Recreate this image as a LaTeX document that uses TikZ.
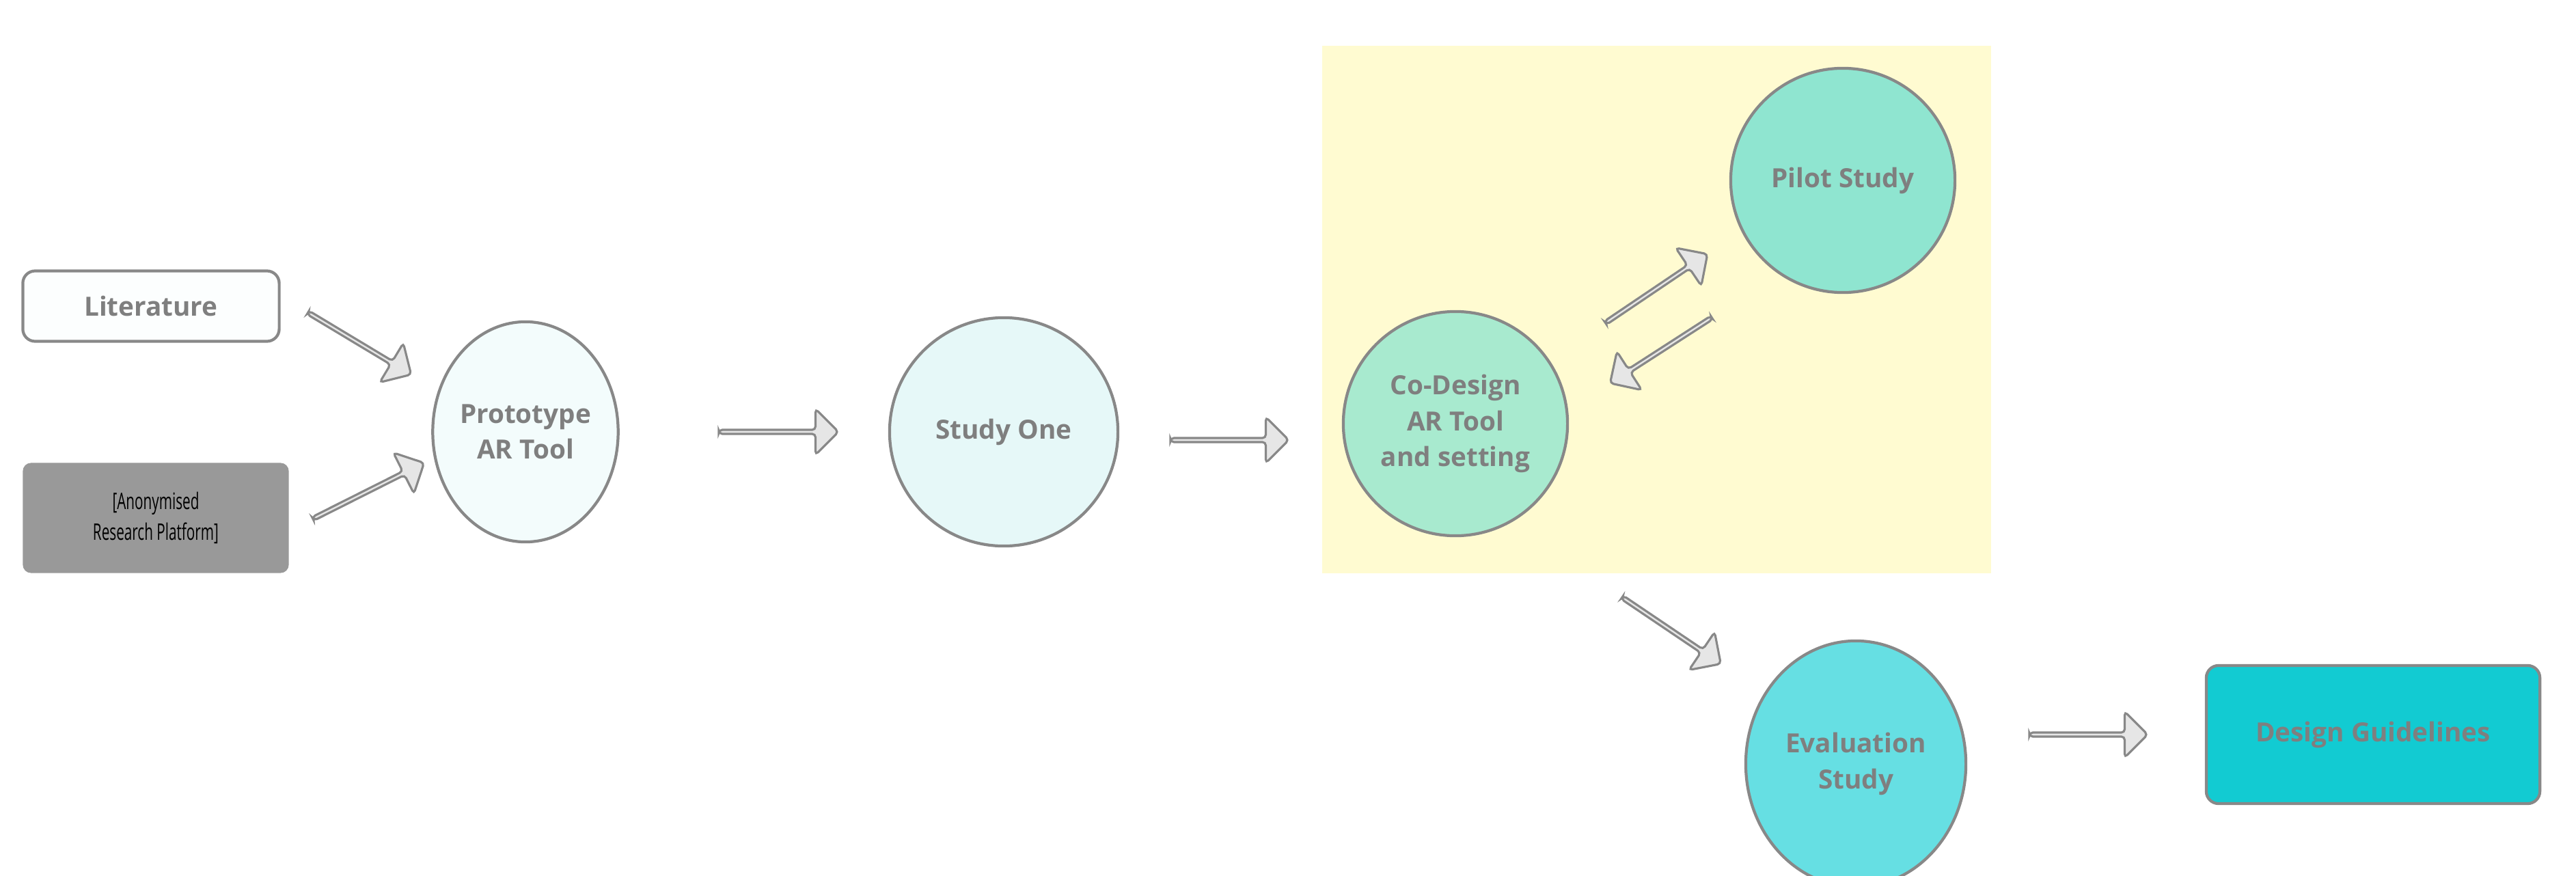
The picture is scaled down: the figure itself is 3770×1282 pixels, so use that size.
\documentclass[tikz,border=0pt]{standalone}
\usepackage{fontspec}
\setmainfont{Open Sans}
\newfontfamily\condfont[FakeStretch=0.62]{Open Sans}
\usetikzlibrary{shapes.geometric,shapes.arrows}
\definecolor{txt}{HTML}{7F7F7F}
\definecolor{edge}{HTML}{888888}
\definecolor{arrfill}{HTML}{E6E6E6}
\tikzset{
  lbl/.style={font=\bfseries\fontsize{11}{15}\selectfont, text=txt, align=center},
  circ/.style={ellipse, draw=edge, line width=1.2pt, inner sep=0pt, lbl},
  rbox/.style={rounded corners=0.18cm, draw=edge, line width=1.2pt, lbl},
  blockarrow/.style={single arrow, draw=edge, fill=arrfill, line width=0.9pt,
    minimum width=0.67cm, single arrow head extend=0.165cm, inner sep=0pt,
    rounded corners=0.05cm, single arrow head indent=0pt}
}
\begin{document}
\begin{tikzpicture}[x=0.01cm,y=-0.01cm]
\useasboundingbox (0,0) rectangle (3770,1282);
\fill[fill=white] (0,0) rectangle (3770,1282);
\fill[fill={rgb,255:red,255;green,251;blue,209}] (1935,67) rectangle (2914,839);

\node[rbox, fill={rgb,255:red,252;green,254;blue,254}, minimum width=3.75cm, minimum height=1.03cm] (lit) at (221,448) {Literature};
\node[fill={rgb,255:red,153;green,153;blue,153}, rounded corners=0.12cm, minimum width=3.89cm, minimum height=1.61cm, align=center, font=\condfont\fontsize{9.5}{13}\selectfont, text=black] (anon) at (228,758) {[Anonymised\\Research Platform]};

\node[circ, fill={rgb,255:red,243;green,252;blue,252}, minimum width=2.54cm, minimum height=3.22cm] (proto) at (769,632) {Prototype\\AR Tool};
\node[circ, fill={rgb,255:red,230;green,248;blue,248}, minimum width=3.34cm, minimum height=3.34cm] (study) at (1469,632) {Study One};
\node[circ, fill={rgb,255:red,168;green,234;blue,207}, minimum width=3.28cm, minimum height=3.28cm] (co) at (2130,620) {Co-Design\\AR Tool\\and setting};
\node[circ, fill={rgb,255:red,143;green,229;blue,208}, minimum width=3.28cm, minimum height=3.28cm] (pilot) at (2697,264) {Pilot Study};
\node[circ, fill={rgb,255:red,102;green,223;blue,227}, minimum width=3.22cm, minimum height=3.6cm] (eval) at (2716,1118) {Evaluation\\Study};
\node[rbox, fill={rgb,255:red,18;green,203;blue,210}, minimum width=4.88cm, minimum height=2.02cm] (dg) at (3473,1075) {Design Guidelines};

\node[blockarrow, rotate=-31, minimum height=1.76cm] (a1) at (525,502) {};
\node[blockarrow, rotate=26.7, minimum height=1.82cm] (a2) at (538,719) {};
\node[blockarrow, rotate=0, minimum height=1.75cm] (a3) at (1138,632) {};
\node[blockarrow, rotate=0, minimum height=1.73cm] (a4) at (1798,644) {};
\node[blockarrow, rotate=34, minimum height=1.80cm] (a5) at (2423,423) {};
\node[blockarrow, rotate=212.8, minimum height=1.77cm] (a6) at (2432,512) {};
\node[blockarrow, rotate=-34, minimum height=1.74cm] (a7) at (2445,922) {};
\node[blockarrow, rotate=0, minimum height=1.73cm] (a8) at (3055,1075) {};
\end{tikzpicture}
\end{document}
